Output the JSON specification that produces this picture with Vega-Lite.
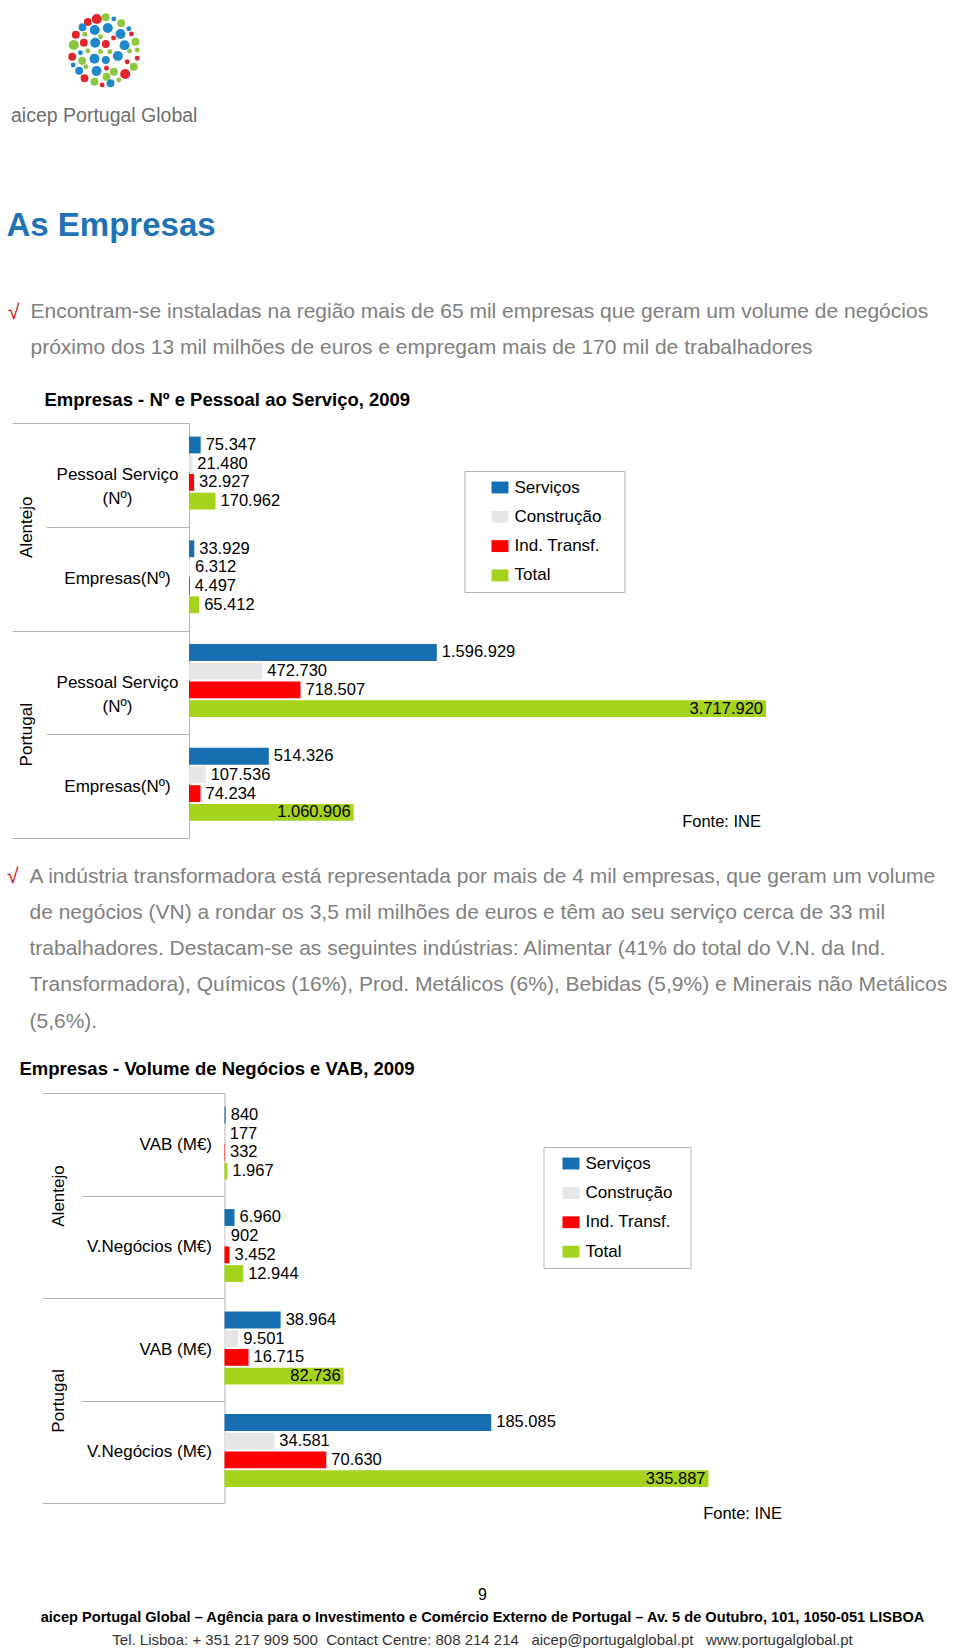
{
  "$schema": "https://vega.github.io/schema/vega-lite/v6.json",
  "background": "white",
  "padding": 0,
  "spacing": 0,
  "autosize": {"type": "pad"},
  "resolve": {"scale": {"color": "independent", "size": "independent", "x": "independent"}, "legend": {"color": "independent"}},
  "config": {
    "font": "Liberation Sans",
    "view": {"stroke": null},
    "locale": {"number": {"decimal": ",", "thousands": ".", "grouping": [3], "currency": ["", " €"]}},
    "axis": {"labelColor": "black", "titleColor": "black", "titleFontWeight": "normal", "labelFont": "Liberation Sans", "titleFont": "Liberation Sans"},
    "title": {"color": "black", "font": "Liberation Sans", "subtitleFont": "Liberation Sans"},
    "legend": {"labelFont": "Liberation Sans"}
  },
  "datasets": {
    "logo": [
      {"x": 87.3, "y": 22, "c": "r", "s": 2}, {"x": 96.3, "y": 19, "c": "r", "s": 3}, {"x": 105.3, "y": 17.3, "c": "g", "s": 2},
      {"x": 113.3, "y": 19, "c": "b", "s": 1}, {"x": 82, "y": 27.3, "c": "b", "s": 2}, {"x": 94.3, "y": 30, "c": "b", "s": 3},
      {"x": 107.3, "y": 28, "c": "b", "s": 3}, {"x": 120.7, "y": 23.3, "c": "g", "s": 2}, {"x": 128.3, "y": 28.7, "c": "b", "s": 1},
      {"x": 75.3, "y": 34.7, "c": "r", "s": 2}, {"x": 84.3, "y": 34.3, "c": "g", "s": 1}, {"x": 100, "y": 36.7, "c": "g", "s": 1},
      {"x": 113, "y": 38, "c": "r", "s": 1}, {"x": 120, "y": 34, "c": "b", "s": 3}, {"x": 131, "y": 34, "c": "r", "s": 1},
      {"x": 73.3, "y": 45, "c": "g", "s": 3}, {"x": 83.3, "y": 42.7, "c": "r", "s": 2}, {"x": 94.7, "y": 42.7, "c": "b", "s": 3},
      {"x": 105.3, "y": 44, "c": "r", "s": 2}, {"x": 124, "y": 45.3, "c": "b", "s": 3}, {"x": 135, "y": 41.7, "c": "g", "s": 2},
      {"x": 80, "y": 52.7, "c": "b", "s": 1}, {"x": 87.3, "y": 50.7, "c": "g", "s": 1}, {"x": 100, "y": 51.5, "c": "g", "s": 1},
      {"x": 109.3, "y": 51.7, "c": "g", "s": 1}, {"x": 117.3, "y": 56, "c": "b", "s": 3}, {"x": 129, "y": 51, "c": "g", "s": 1},
      {"x": 136.7, "y": 50, "c": "g", "s": 1}, {"x": 71.7, "y": 56.7, "c": "r", "s": 2}, {"x": 81.7, "y": 60.7, "c": "g", "s": 2},
      {"x": 94, "y": 58.7, "c": "b", "s": 3}, {"x": 105.3, "y": 60, "c": "b", "s": 2}, {"x": 126.7, "y": 61.7, "c": "r", "s": 1},
      {"x": 136.7, "y": 58.3, "c": "r", "s": 1}, {"x": 72.7, "y": 65, "c": "b", "s": 1}, {"x": 78.7, "y": 70.7, "c": "b", "s": 2},
      {"x": 85.3, "y": 66.7, "c": "g", "s": 1}, {"x": 96, "y": 71, "c": "b", "s": 3}, {"x": 106, "y": 68.3, "c": "r", "s": 1},
      {"x": 113.3, "y": 71.7, "c": "g", "s": 2}, {"x": 124.7, "y": 74, "c": "r", "s": 3}, {"x": 133.3, "y": 66.7, "c": "g", "s": 2},
      {"x": 84, "y": 78.3, "c": "r", "s": 2}, {"x": 94, "y": 81.7, "c": "g", "s": 2}, {"x": 101.7, "y": 85, "c": "r", "s": 1},
      {"x": 110, "y": 83.3, "c": "b", "s": 2}, {"x": 118.3, "y": 80, "c": "g", "s": 1}, {"x": 106, "y": 76.7, "c": "g", "s": 2}
    ],
    "c1": [
      {"region": "Alentejo", "row": "Alentejo|Pessoal Serviço|(Nº)", "sector": "Serviços", "value": 75347},
      {"region": "Alentejo", "row": "Alentejo|Pessoal Serviço|(Nº)", "sector": "Construção", "value": 21480},
      {"region": "Alentejo", "row": "Alentejo|Pessoal Serviço|(Nº)", "sector": "Ind. Transf.", "value": 32927},
      {"region": "Alentejo", "row": "Alentejo|Pessoal Serviço|(Nº)", "sector": "Total", "value": 170962},
      {"region": "Alentejo", "row": "Alentejo|Empresas(Nº)", "sector": "Serviços", "value": 33929},
      {"region": "Alentejo", "row": "Alentejo|Empresas(Nº)", "sector": "Construção", "value": 6312},
      {"region": "Alentejo", "row": "Alentejo|Empresas(Nº)", "sector": "Ind. Transf.", "value": 4497},
      {"region": "Alentejo", "row": "Alentejo|Empresas(Nº)", "sector": "Total", "value": 65412},
      {"region": "Portugal", "row": "Portugal|Pessoal Serviço|(Nº)", "sector": "Serviços", "value": 1596929},
      {"region": "Portugal", "row": "Portugal|Pessoal Serviço|(Nº)", "sector": "Construção", "value": 472730},
      {"region": "Portugal", "row": "Portugal|Pessoal Serviço|(Nº)", "sector": "Ind. Transf.", "value": 718507},
      {"region": "Portugal", "row": "Portugal|Pessoal Serviço|(Nº)", "sector": "Total", "value": 3717920},
      {"region": "Portugal", "row": "Portugal|Empresas(Nº)", "sector": "Serviços", "value": 514326},
      {"region": "Portugal", "row": "Portugal|Empresas(Nº)", "sector": "Construção", "value": 107536},
      {"region": "Portugal", "row": "Portugal|Empresas(Nº)", "sector": "Ind. Transf.", "value": 74234},
      {"region": "Portugal", "row": "Portugal|Empresas(Nº)", "sector": "Total", "value": 1060906}
    ],
    "c2": [
      {"region": "Alentejo", "row": "Alentejo|VAB (M€)", "sector": "Serviços", "value": 840},
      {"region": "Alentejo", "row": "Alentejo|VAB (M€)", "sector": "Construção", "value": 177},
      {"region": "Alentejo", "row": "Alentejo|VAB (M€)", "sector": "Ind. Transf.", "value": 332},
      {"region": "Alentejo", "row": "Alentejo|VAB (M€)", "sector": "Total", "value": 1967},
      {"region": "Alentejo", "row": "Alentejo|V.Negócios (M€)", "sector": "Serviços", "value": 6960},
      {"region": "Alentejo", "row": "Alentejo|V.Negócios (M€)", "sector": "Construção", "value": 902},
      {"region": "Alentejo", "row": "Alentejo|V.Negócios (M€)", "sector": "Ind. Transf.", "value": 3452},
      {"region": "Alentejo", "row": "Alentejo|V.Negócios (M€)", "sector": "Total", "value": 12944},
      {"region": "Portugal", "row": "Portugal|VAB (M€)", "sector": "Serviços", "value": 38964},
      {"region": "Portugal", "row": "Portugal|VAB (M€)", "sector": "Construção", "value": 9501},
      {"region": "Portugal", "row": "Portugal|VAB (M€)", "sector": "Ind. Transf.", "value": 16715},
      {"region": "Portugal", "row": "Portugal|VAB (M€)", "sector": "Total", "value": 82736},
      {"region": "Portugal", "row": "Portugal|V.Negócios (M€)", "sector": "Serviços", "value": 185085},
      {"region": "Portugal", "row": "Portugal|V.Negócios (M€)", "sector": "Construção", "value": 34581},
      {"region": "Portugal", "row": "Portugal|V.Negócios (M€)", "sector": "Ind. Transf.", "value": 70630},
      {"region": "Portugal", "row": "Portugal|V.Negócios (M€)", "sector": "Total", "value": 335887}
    ]
  },
  "vconcat": [
    {
      "width": 771.5,
      "height": 100,
      "data": {"name": "logo"},
      "mark": {"type": "point", "filled": true, "opacity": 1},
      "encoding": {
        "x": {"field": "x", "type": "quantitative", "scale": {"domain": [188.5, 960], "nice": false, "zero": false},
              "axis": {"domain": false, "ticks": false, "labels": false, "grid": false, "title": "aicep Portugal Global",
                       "titleX": -178.5, "titleY": 6, "titleAlign": "left", "titleBaseline": "top", "titleFontSize": 19.5, "titleColor": "#6d6e71"}},
        "y": {"field": "y", "type": "quantitative", "scale": {"domain": [0, 100], "reverse": true, "nice": false, "zero": false}, "axis": null},
        "color": {"field": "c", "type": "nominal", "scale": {"domain": ["b", "r", "g"], "range": ["#1f88cb", "#e3242b", "#8dc63f"]}, "legend": null},
        "size": {"field": "s", "type": "quantitative", "scale": {"domain": [1, 3], "range": [24, 100]}, "legend": null}
      },
      "title": {"text": "As Empresas", "orient": "bottom", "anchor": "start", "frame": "group", "dx": -182.5, "offset": 85.5,
                "fontSize": 33, "fontWeight": "bold", "color": "#1d72b8"}
    },
    {
      "spacing": 33,
      "resolve": {"scale": {"color": "independent", "x": "independent"}, "legend": {"color": "independent"}},
      "vconcat": [
        {
          "width": 600, "height": 1,
          "data": {"values": [{}]},
          "mark": {"type": "point", "opacity": 0, "size": 0},
          "encoding": {
            "x": {"datum": 0, "type": "quantitative", "scale": {"domain": [0, 1]},
                  "axis": {"orient": "top", "labels": false, "ticks": false, "domain": false, "grid": false, "title": "√",
                           "titleX": -181.5, "titleY": 58, "titleAlign": "left", "titleBaseline": "top", "titleAngle": 0,
                           "titleFontSize": 21, "titleColor": "#d0101b", "titleFontWeight": "normal"}}
          },
          "title": {
            "text": [
              "Encontram-se instaladas na região mais de 65 mil empresas que geram um volume de negócios",
              "próximo dos 13 mil milhões de euros e empregam mais de 170 mil de trabalhadores"
            ],
            "orient": "bottom", "anchor": "start", "frame": "group", "dx": -158.5, "offset": -21,
            "fontSize": 21, "fontWeight": "normal", "color": "#808080", "lineHeight": 35.5
          }
        },
        {
          "width": 577, "height": 415,
          "title": {"text": "Empresas - Nº e Pessoal ao Serviço, 2009", "anchor": "start", "frame": "group", "dx": -144.5, "offset": 4.5,
                    "fontSize": 18.5, "fontWeight": "bold", "color": "black"},
          "data": {"name": "c1"},
          "layer": [
            {
              "encoding": {
                "y": {"field": "row", "type": "nominal", "sort": null, "scale": {"paddingInner": 0, "paddingOuter": 0},
                      "axis": {"orient": "left", "title": null, "domainColor": "#b3b3b3", "tickColor": "#b3b3b3", "tickBand": "extent",
                               "tickSize": 143, "labelExpr": "slice(split(datum.value, '|'), 1)", "labelAlign": "center",
                               "labelBaseline": "middle", "labelPadding": -71, "labelFontSize": 17, "labelLineHeight": 24,
                               "labelColor": "black", "minExtent": 188.5, "maxExtent": 188.5, "grid": false}},
                "yOffset": {"field": "sector", "type": "nominal", "sort": ["Serviços", "Construção", "Ind. Transf.", "Total"],
                            "scale": {"paddingInner": 0.1, "paddingOuter": 0.825, "align": 0.44}},
                "x": {"field": "value", "type": "quantitative", "scale": {"nice": false, "zero": true},
                      "axis": {"title": "Fonte: INE", "labels": false, "ticks": false, "domain": false, "grid": false,
                               "titleX": 571.5, "titleY": -17, "titleAlign": "right", "titleBaseline": "middle",
                               "titleFontSize": 16.5, "titleFontWeight": "normal", "titleColor": "black"}}
              },
              "layer": [
                {
                  "mark": {"type": "bar"},
                  "encoding": {
                    "color": {"field": "sector", "type": "nominal",
                              "scale": {"domain": ["Serviços", "Construção", "Ind. Transf.", "Total"], "range": ["#176fb2", "#e6e6e6", "#ff0000", "#a5d21a"]},
                              "legend": {"orient": "none", "legendX": 275.5, "legendY": 48, "title": null, "direction": "vertical",
                                         "strokeColor": "#b3b3b3", "fillColor": "white", "padding": 8,
                                         "symbolType": "M-1,-0.7H1V0.7H-1Z", "symbolSize": 289, "symbolOffset": 19,
                                         "symbolStrokeWidth": 0, "symbolOpacity": 1, "labelFontSize": 17, "labelOffset": 6,
                                         "labelExpr": "datum.label + '\u00a0\u00a0\u00a0\u200b'",
                                         "rowPadding": 11.3, "labelColor": "black"}}
                  }
                },
                {
                  "transform": [{"filter": "!(datum.region === 'Portugal' && datum.sector === 'Total')"}],
                  "mark": {"type": "text", "align": "left", "baseline": "middle", "dx": 5, "fontSize": 16.5, "color": "black"},
                  "encoding": {"text": {"field": "value", "type": "quantitative", "format": ",d"}}
                },
                {
                  "transform": [{"filter": "datum.region === 'Portugal' && datum.sector === 'Total'"}],
                  "mark": {"type": "text", "align": "right", "baseline": "middle", "dx": -3, "fontSize": 16.5, "color": "black"},
                  "encoding": {"text": {"field": "value", "type": "quantitative", "format": ",d"}}
                }
              ]
            },
            {
              "mark": {"type": "point", "opacity": 0},
              "encoding": {
                "y": {"field": "region", "type": "nominal", "sort": null, "scale": {"paddingInner": 0, "paddingOuter": 0},
                      "axis": {"orient": "left", "title": null, "domain": false, "tickColor": "#b3b3b3", "tickBand": "extent",
                               "tickSize": 177, "labelAngle": -90, "labelAlign": "center", "labelBaseline": "middle",
                               "labelPadding": -14, "labelFontSize": 17, "labelColor": "black", "minExtent": 188.5, "maxExtent": 188.5, "grid": false}}
              }
            }
          ],
          "resolve": {"scale": {"y": "independent"}}
        }
      ]
    },
    {
      "spacing": 28,
      "resolve": {"scale": {"color": "independent", "x": "independent"}, "legend": {"color": "independent"}},
      "vconcat": [
        {
          "width": 600, "height": 1,
          "data": {"values": [{}]},
          "mark": {"type": "point", "opacity": 0, "size": 0},
          "encoding": {
            "x": {"datum": 0, "type": "quantitative", "scale": {"domain": [0, 1]},
                  "axis": {"orient": "top", "labels": false, "ticks": false, "domain": false, "grid": false, "title": "√",
                           "titleX": -182.5, "titleY": 26.5, "titleAlign": "left", "titleBaseline": "top", "titleAngle": 0,
                           "titleFontSize": 21, "titleColor": "#d0101b", "titleFontWeight": "normal"}}
          },
          "title": {
            "text": [
              "A indústria transformadora está representada por mais de 4 mil empresas, que geram um volume",
              "de negócios (VN) a rondar os 3,5 mil milhões de euros e têm ao seu serviço cerca de 33 mil",
              "trabalhadores. Destacam-se as seguintes indústrias: Alimentar (41% do total do V.N. da Ind.",
              "Transformadora), Químicos (16%), Prod. Metálicos (6%), Bebidas (5,9%) e Minerais não Metálicos",
              "(5,6%)."
            ],
            "orient": "bottom", "anchor": "start", "frame": "group", "dx": -159.5, "offset": -21,
            "fontSize": 21, "fontWeight": "normal", "color": "#808080", "lineHeight": 36.3
          }
        },
        {
          "width": 555, "height": 410,
          "title": {"text": "Empresas - Volume de Negócios e VAB, 2009", "anchor": "start", "frame": "group", "dx": -169.5, "offset": 5.4,
                    "fontSize": 18.5, "fontWeight": "bold", "color": "black"},
          "data": {"name": "c2"},
          "layer": [
            {
              "encoding": {
                "y": {"field": "row", "type": "nominal", "sort": null, "scale": {"paddingInner": 0, "paddingOuter": 0},
                      "axis": {"orient": "left", "offset": -35.5, "title": null, "domainColor": "#b3b3b3", "tickColor": "#b3b3b3", "tickBand": "extent",
                               "tickSize": 143, "labelExpr": "slice(split(datum.value, '|'), 1)", "labelAlign": "right",
                               "labelBaseline": "middle", "labelPadding": -130, "labelFontSize": 17, "labelLineHeight": 24,
                               "labelColor": "black", "grid": false}},
                "yOffset": {"field": "sector", "type": "nominal", "sort": ["Serviços", "Construção", "Ind. Transf.", "Total"],
                            "scale": {"paddingInner": 0.1, "paddingOuter": 0.825, "align": 0.44}},
                "x": {"field": "value", "type": "quantitative", "scale": {"nice": false, "zero": true, "padding": 35.5},
                      "axis": {"title": "Fonte: INE", "labels": false, "ticks": false, "domain": false, "grid": false,
                               "titleX": 592.5, "titleY": 10, "titleAlign": "right", "titleBaseline": "middle",
                               "titleFontSize": 16.5, "titleFontWeight": "normal", "titleColor": "black"}}
              },
              "layer": [
                {
                  "mark": {"type": "bar"},
                  "encoding": {
                    "color": {"field": "sector", "type": "nominal",
                              "scale": {"domain": ["Serviços", "Construção", "Ind. Transf.", "Total"], "range": ["#176fb2", "#e6e6e6", "#ff0000", "#a5d21a"]},
                              "legend": {"orient": "none", "legendX": 354.5, "legendY": 54, "title": null, "direction": "vertical",
                                         "strokeColor": "#b3b3b3", "fillColor": "white", "padding": 8,
                                         "symbolType": "M-1,-0.7H1V0.7H-1Z", "symbolSize": 289, "symbolOffset": 11,
                                         "symbolStrokeWidth": 0, "symbolOpacity": 1, "labelFontSize": 17, "labelOffset": 6,
                                         "labelExpr": "datum.label + '\u00a0\u00a0\u200b'",
                                         "rowPadding": 11.4, "labelColor": "black"}}
                  }
                },
                {
                  "transform": [{"filter": "!(datum.region === 'Portugal' && datum.sector === 'Total')"}],
                  "mark": {"type": "text", "align": "left", "baseline": "middle", "dx": 5, "fontSize": 16.5, "color": "black"},
                  "encoding": {"text": {"field": "value", "type": "quantitative", "format": ",d"}}
                },
                {
                  "transform": [{"filter": "datum.region === 'Portugal' && datum.sector === 'Total'"}],
                  "mark": {"type": "text", "align": "right", "baseline": "middle", "dx": -3, "fontSize": 16.5, "color": "black"},
                  "encoding": {"text": {"field": "value", "type": "quantitative", "format": ",d"}}
                }
              ]
            },
            {
              "mark": {"type": "point", "opacity": 0},
              "encoding": {
                "y": {"field": "region", "type": "nominal", "sort": null, "scale": {"paddingInner": 0, "paddingOuter": 0},
                      "axis": {"orient": "left", "offset": -35.5, "title": null, "domain": false, "tickColor": "#b3b3b3", "tickBand": "extent",
                               "tickSize": 182, "labelAngle": -90, "labelAlign": "center", "labelBaseline": "middle",
                               "labelPadding": -16, "labelFontSize": 17, "labelColor": "black", "grid": false}}
              }
            }
          ],
          "resolve": {"scale": {"y": "independent"}}
        }
      ]
    },
    {
      "width": 587, "height": 1,
      "data": {"values": []},
      "mark": "point",
      "encoding": {},
      "title": {
        "text": "9", "orient": "bottom", "anchor": "middle", "frame": "group", "offset": 64,
        "fontSize": 16, "fontWeight": "normal", "color": "black",
        "subtitle": "aicep Portugal Global – Agência para o Investimento e Comércio Externo de Portugal – Av. 5 de Outubro, 101, 1050-051 LISBOA",
        "subtitleFontSize": 14.6, "subtitleFontWeight": "bold", "subtitleColor": "black", "subtitlePadding": 7
      }
    },
    {
      "width": 587, "height": 1,
      "data": {"values": []},
      "mark": "point",
      "encoding": {},
      "title": {
        "text": "Tel. Lisboa: + 351 217 909 500 \u00a0Contact Centre: 808 214 214 \u00a0 aicep@portugalglobal.pt \u00a0 www.portugalglobal.pt",
        "orient": "bottom", "anchor": "middle", "frame": "group", "offset": 7,
        "fontSize": 15, "fontWeight": "normal", "color": "#333333"
      }
    }
  ]
}
